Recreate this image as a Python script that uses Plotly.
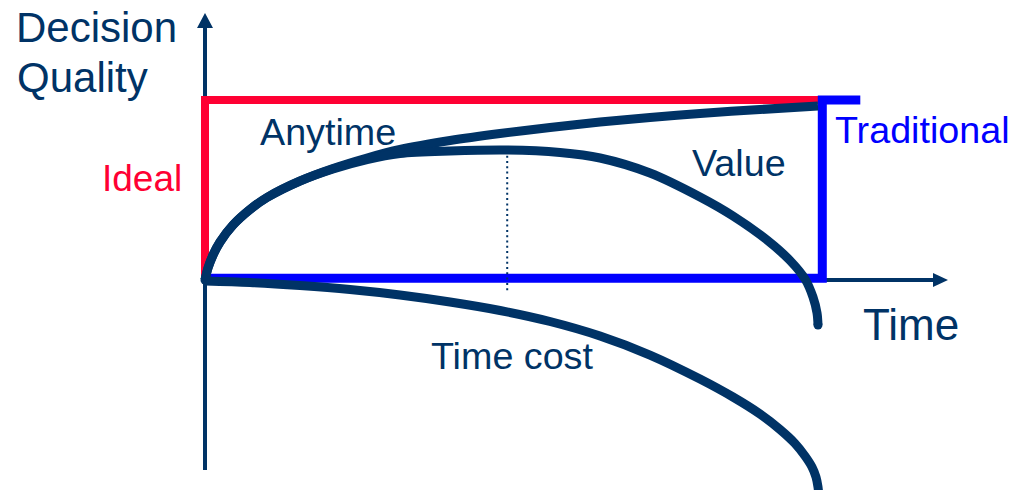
import plotly.graph_objects as go

W, H = 1013, 490

# ---- conceptual data: time (0..100 along the axis), decision quality (0..100 = ideal level)
anytime_t = [0, 0.49, 1.31, 2.45, 4.57, 7.34, 10.11, 15.5, 20.88, 26.43, 31.81, 39.97, 48.12, 56.28,
             64.44, 72.59, 80.75, 90.54, 100]
anytime_q = [0, 6.67, 13.89, 21.11, 30.56, 39.17, 45.83, 55, 61.94, 67.78, 72.5, 77.5, 81.39, 84.72,
             87.78, 90.28, 92.5, 94.72, 96.67]

value_t = [0, 0.49, 1.31, 2.45, 4.57, 7.34, 10.11, 15.5, 20.88, 26.43, 31.81, 39.97, 49.27, 57.91,
           64.44, 72.59, 80.75, 86.13, 91.68, 95.43, 97.88, 99.18, 99.84, 100]
value_q = [0, 6.67, 13.89, 21.11, 30.56, 39.17, 45.83, 55, 61.67, 66.94, 70.28, 71.67, 72.22, 70.83,
           67.78, 59.44, 46.11, 35.56, 22.22, 10.83, 0.56, -9.44, -18.33, -25]

timecost_t = [0, 7.34, 15.5, 23.65, 31.81, 39.97, 48.12, 56.28, 64.44, 72.59, 80.75, 86.13, 90.54,
              93.8, 96.25, 97.88, 99.02, 99.67, 100, 100.16]
timecost_q = [-0.56, -1.39, -3.06, -5.28, -8.33, -12.22, -16.94, -23.06, -31.11, -41.67, -55, -65,
              -74.44, -83.06, -90.83, -97.78, -103.89, -109.44, -115, -120.56]

ideal_t = [0, 0, 100]
ideal_q = [0, 100, 100]

traditional_t = [0, 100.7, 100.7, 106.9]
traditional_q = [1, 1, 100, 100]

peak_t = [49.3, 49.3]
peak_q = [72, -7]

labels = ["Decision", "Quality", "Ideal", "Anytime", "Value", "Time cost", "Traditional", "Time"]

# ---- layout geometry (pixels)
ORIGIN_X, ORIGIN_Y = 205, 280
PX_T, PX_Q = 6.13, 1.8

NAVY = "#003366"
RED = "#FF0033"
BLUE = "#0000FF"
FONT = "Liberation Sans, Arial, sans-serif"


def to_t(px):
    return (px - ORIGIN_X) / PX_T


def to_q(py):
    return (ORIGIN_Y - py) / PX_Q


fig = go.Figure()

# axes lines
fig.add_trace(go.Scatter(x=[0, 0], y=[to_q(470), to_q(27)], mode="lines",
                         line=dict(color=NAVY, width=4), hoverinfo="skip"))
fig.add_trace(go.Scatter(x=[0, to_t(934)], y=[0, 0], mode="lines",
                         line=dict(color=NAVY, width=4), hoverinfo="skip"))
# arrowheads
fig.add_trace(go.Scatter(x=[0, to_t(197), to_t(213), 0], y=[to_q(13), to_q(28), to_q(28), to_q(13)],
                         mode="lines", fill="toself", fillcolor=NAVY, line=dict(color=NAVY, width=0),
                         hoverinfo="skip"))
fig.add_trace(go.Scatter(x=[to_t(948), to_t(933), to_t(933), to_t(948)], y=[0, to_q(273), to_q(287), 0],
                         mode="lines", fill="toself", fillcolor=NAVY, line=dict(color=NAVY, width=0),
                         hoverinfo="skip"))

# ideal & traditional
fig.add_trace(go.Scatter(x=ideal_t, y=ideal_q, mode="lines", line=dict(color=RED, width=8),
                         hoverinfo="skip"))
fig.add_trace(go.Scatter(x=traditional_t, y=traditional_q, mode="lines", line=dict(color=BLUE, width=9),
                         hoverinfo="skip"))

# dotted peak line
fig.add_trace(go.Scatter(x=peak_t, y=peak_q, mode="lines",
                         line=dict(color=NAVY, width=2, dash="2px,3.3px"), hoverinfo="skip"))

# curves
for tt, qq in [(anytime_t, anytime_q), (value_t, value_q), (timecost_t, timecost_q)]:
    fig.add_trace(go.Scatter(x=tt, y=qq, mode="lines",
                             line=dict(color=NAVY, width=9, shape="spline", smoothing=0.9),
                             hoverinfo="skip"))
# round caps
fig.add_trace(go.Scatter(x=[value_t[0], value_t[-1]], y=[value_q[0], value_q[-1]], mode="markers",
                         marker=dict(color=NAVY, size=9, line=dict(width=0)), hoverinfo="skip"))


def ann(text, left, mid, size, color):
    fig.add_annotation(x=left / W, y=1 - mid / H, xref="paper", yref="paper", text=text,
                       showarrow=False, xanchor="left", yanchor="middle",
                       font=dict(family=FONT, size=size, color=color))


ann(labels[0], 13.5, 27.4, 42, NAVY)
ann(labels[1], 14.5, 77.4, 42, NAVY)
ann(labels[2], 99.5, 178, 37, RED)
ann(labels[3], 258, 132, 37.7, NAVY)
ann(labels[4], 689.5, 163, 37.7, NAVY)
ann(labels[5], 429, 356, 37.7, NAVY)
ann(labels[6], 833, 130, 37.7, BLUE)
ann(labels[7], 861, 324.8, 44, NAVY)

fig.update_layout(
    width=W, height=H, autosize=False,
    margin=dict(l=0, r=0, t=0, b=0),
    paper_bgcolor="white", plot_bgcolor="white",
    showlegend=False,
    xaxis=dict(visible=False, range=[to_t(0), to_t(W)], fixedrange=True),
    yaxis=dict(visible=False, range=[to_q(H), to_q(0)], fixedrange=True),
)

fig.write_html("out.html", config={"displayModeBar": False})
